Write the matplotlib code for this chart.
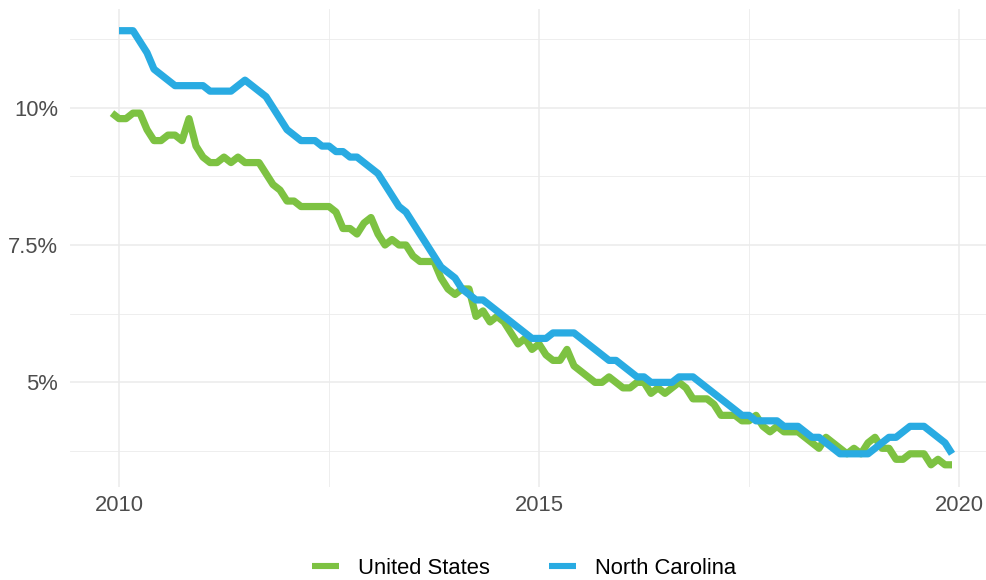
import numpy as np
import matplotlib
matplotlib.use("Agg")
import matplotlib.pyplot as plt
from matplotlib.ticker import FixedLocator

plt.rcParams['font.family'] = ['Liberation Sans', 'DejaVu Sans']

# monthly unemployment rate (%)
# US series starts Dec 2009, NC series starts Jan 2010, both end Dec 2019
us_rate = [9.9,
           9.8, 9.8, 9.9, 9.9, 9.6, 9.4, 9.4, 9.5, 9.5, 9.4, 9.8, 9.3,
           9.1, 9.0, 9.0, 9.1, 9.0, 9.1, 9.0, 9.0, 9.0, 8.8, 8.6, 8.5,
           8.3, 8.3, 8.2, 8.2, 8.2, 8.2, 8.2, 8.1, 7.8, 7.8, 7.7, 7.9,
           8.0, 7.7, 7.5, 7.6, 7.5, 7.5, 7.3, 7.2, 7.2, 7.2, 6.9, 6.7,
           6.6, 6.7, 6.7, 6.2, 6.3, 6.1, 6.2, 6.1, 5.9, 5.7, 5.8, 5.6,
           5.7, 5.5, 5.4, 5.4, 5.6, 5.3, 5.2, 5.1, 5.0, 5.0, 5.1, 5.0,
           4.9, 4.9, 5.0, 5.0, 4.8, 4.9, 4.8, 4.9, 5.0, 4.9, 4.7, 4.7,
           4.7, 4.6, 4.4, 4.4, 4.4, 4.3, 4.3, 4.4, 4.2, 4.1, 4.2, 4.1,
           4.1, 4.1, 4.0, 3.9, 3.8, 4.0, 3.9, 3.8, 3.7, 3.8, 3.7, 3.9,
           4.0, 3.8, 3.8, 3.6, 3.6, 3.7, 3.7, 3.7, 3.5, 3.6, 3.5, 3.5]

nc_rate = [11.4, 11.4, 11.4, 11.2, 11.0, 10.7, 10.6, 10.5, 10.4, 10.4, 10.4, 10.4,
           10.4, 10.3, 10.3, 10.3, 10.3, 10.4, 10.5, 10.4, 10.3, 10.2, 10.0, 9.8,
           9.6, 9.5, 9.4, 9.4, 9.4, 9.3, 9.3, 9.2, 9.2, 9.1, 9.1, 9.0,
           8.9, 8.8, 8.6, 8.4, 8.2, 8.1, 7.9, 7.7, 7.5, 7.3, 7.1, 7.0,
           6.9, 6.7, 6.6, 6.5, 6.5, 6.4, 6.3, 6.2, 6.1, 6.0, 5.9, 5.8,
           5.8, 5.8, 5.9, 5.9, 5.9, 5.9, 5.8, 5.7, 5.6, 5.5, 5.4, 5.4,
           5.3, 5.2, 5.1, 5.1, 5.0, 5.0, 5.0, 5.0, 5.1, 5.1, 5.1, 5.0,
           4.9, 4.8, 4.7, 4.6, 4.5, 4.4, 4.4, 4.3, 4.3, 4.3, 4.3, 4.2,
           4.2, 4.2, 4.1, 4.0, 4.0, 3.9, 3.8, 3.7, 3.7, 3.7, 3.7, 3.7,
           3.8, 3.9, 4.0, 4.0, 4.1, 4.2, 4.2, 4.2, 4.1, 4.0, 3.9, 3.7]

year_ticks = [2010, 2015, 2020]
pct_ticks = [5, 7.5, 10]
pct_labels = ['5%', '7.5%', '10%']

green = '#7DC242'
blue = '#29ABE2'

# decimal-year x positions
us_x = 2009 + 11 / 12 + np.arange(len(us_rate)) / 12
nc_x = 2010 + np.arange(len(nc_rate)) / 12

fig = plt.figure(figsize=(9.87, 5.8), dpi=100)
fig.set_facecolor('w')
# panel runs a bit past the right edge (cropped original)
ax = fig.add_axes([70 / 987, 1 - 486.5 / 580, 924 / 987, 477.5 / 580])

ax.plot(us_x, us_rate, color=green, lw=5.2, solid_capstyle='butt',
        solid_joinstyle='round', label='United States')
ax.plot(nc_x, nc_rate, color=blue, lw=5.2, solid_capstyle='butt',
        solid_joinstyle='round', label='North Carolina')

# ggplot-style 5% expansion
xs = np.concatenate([us_x, nc_x])
ys = np.concatenate([us_rate, nc_rate])
dx = (xs.max() - xs.min()) * 0.05
dy = (ys.max() - ys.min()) * 0.05
ax.set_xlim(xs.min() - dx, xs.max() + dx)
ax.set_ylim(ys.min() - dy, ys.max() + dy)

ax.set_xticks(year_ticks)
ax.set_xticklabels([str(y) for y in year_ticks])
ax.xaxis.set_minor_locator(FixedLocator([2012.5, 2017.5]))
ax.set_yticks(pct_ticks)
ax.set_yticklabels(pct_labels)
ax.yaxis.set_minor_locator(FixedLocator([3.75, 6.25, 8.75, 11.25]))

ax.grid(True, which='major', color='#EBEBEB', lw=1.1)
ax.grid(True, which='minor', color='#EBEBEB', lw=0.6)
ax.set_axisbelow(True)
for s in ax.spines.values():
    s.set_visible(False)
ax.tick_params(which='both', length=0)
ax.tick_params(axis='x', labelsize=15.8, labelcolor='#4D4D4D', pad=6)
ax.tick_params(axis='y', labelsize=15.8, labelcolor='#4D4D4D', pad=8.5)

leg = fig.legend(loc='center', bbox_to_anchor=(524 / 987, 1 - 568 / 580), ncol=2,
                 frameon=False, fontsize=15.8, handlelength=1.25, handletextpad=0.85,
                 columnspacing=2.7)
for h in leg.get_lines():
    h.set_linewidth(4.4)

fig.savefig('out.png', dpi=100, facecolor='w')
